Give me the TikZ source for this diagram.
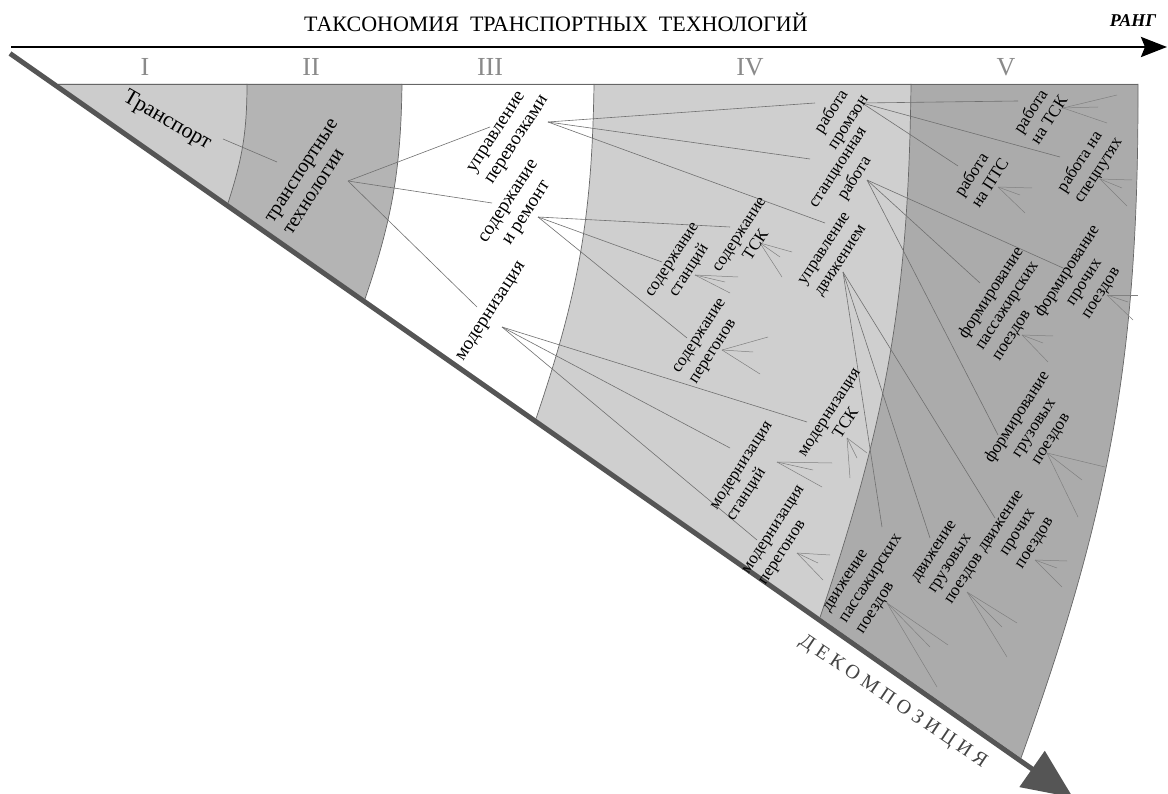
\documentclass[tikz,border=0pt]{standalone}
\usepackage{fontspec}
\setmainfont{Liberation Serif}
\usetikzlibrary{arrows.meta}

\definecolor{bandI}{HTML}{CCCCCC}
\definecolor{bandII}{HTML}{B4B4B4}
\definecolor{bandIV}{HTML}{CFCFCF}
\definecolor{bandV}{HTML}{ABABAB}
\definecolor{rimgray}{HTML}{666666}
\definecolor{bargray}{HTML}{555555}
\definecolor{linkgray}{HTML}{707070}
\definecolor{stubgray}{HTML}{808080}
\definecolor{numgray}{HTML}{8A8A8A}
\definecolor{axisgray}{HTML}{444444}

% three short strokes fanning out of a leaf label
\newcommand\stubfan[5]{%
  \coordinate (#1-o) at (#2);
  \coordinate (#1-a) at (#3);
  \coordinate (#1-b) at (#4);
  \coordinate (#1-c) at (#5);
  \draw[stub] (#1-o) -- (#1-a);
  \draw[stub] (#1-o) -- (#1-b);
  \draw[stub] (#1-o) -- (#1-c);}

\begin{document}
\begin{tikzpicture}[x=1pt,y=1pt,
  lbl/.style={inner sep=0pt, outer sep=0pt, text=black, rotate=57},
  lvlA/.style={inner sep=0pt, text=black, rotate=-30, font=\fontsize{22}{24}\selectfont},
  lvlB/.style={lbl, font=\fontsize{20}{22}\selectfont},
  lvlC/.style={lbl, font=\fontsize{19}{21.5}\selectfont},
  lvlD/.style={lbl, font=\fontsize{17}{20}\selectfont},
  link/.style={draw=linkgray, line width=0.6pt},
  stub/.style={draw=stubgray, line width=0.5pt},
  rim/.style={draw=rimgray, line width=0.7pt},
  numeral/.style={text=numgray, inner sep=0pt, font=\fontsize{26}{28}\selectfont},
]
\useasboundingbox (0,0) rectangle (1168,-794);
\fill[white] (0,0) rectangle (1168,-794);

% ---- sector geometry ----
\coordinate (apex) at (58,-84);
\coordinate (a1t) at (247,-84);   \coordinate (a1b) at (228,-203);
\coordinate (a2t) at (402,-84);   \coordinate (a2b) at (365,-299);
\coordinate (a3t) at (594,-84);   \coordinate (a3b) at (536,-418.6);
\coordinate (a4t) at (911,-84);   \coordinate (a4b) at (820,-617.4);
\coordinate (a5t) at (1138,-84);  \coordinate (a5b) at (1021,-758);

% bands, painted from the outside in
\fill[bandV]  (apex) -- (a5t) to[bend left=10] (a5b) -- cycle;
\fill[bandIV] (apex) -- (a4t) to[bend left=9] (a4b) -- cycle;
\fill[white]  (apex) -- (a3t) to[bend left=9] (a3b) -- cycle;
\fill[bandII] (apex) -- (a2t) to[bend left=9] (a2b) -- cycle;
\fill[bandI]  (apex) -- (a1t) to[bend left=9] (a1b) -- cycle;

\draw[rim] (a1t) to[bend left=9] (a1b);
\draw[rim] (a2t) to[bend left=9] (a2b);
\draw[rim] (a3t) to[bend left=9] (a3b);
\draw[rim] (a4t) to[bend left=9] (a4b);
\draw[rim] (a5t) to[bend left=10] (a5b);
\draw[rim] (apex) -- (a5t);

% ---- axes ----
\coordinate (rank-s) at (11,-47);
\coordinate (rank-e) at (1167,-47);
\draw[black, line width=2.8pt, -{Stealth[width=20pt,length=26pt,inset=4pt]}] (rank-s) -- (rank-e);
\coordinate (dec-s) at (10,-53.5);
\coordinate (dec-e) at (1073,-797.6);
\draw[bargray, line width=5pt, -{Triangle[width=43pt,length=50pt]}] (dec-s) -- (dec-e);

\node[font=\fontsize{22}{24}\selectfont, inner sep=0pt] (title) at (556,-22)
  {ТАКСОНОМИЯ\ \ ТРАНСПОРТНЫХ\ \ ТЕХНОЛОГИЙ};
\node[font=\fontsize{18}{20}\selectfont\bfseries\itshape, inner sep=0pt] (rang) at (1133,-21) {РАНГ};
\node[text=axisgray, rotate=-34, inner sep=0pt,
      font=\fontsize{20}{22}\selectfont\addfontfeatures{LetterSpace=25}] (decomp) at (893,-702)
  {ДЕКОМПОЗИЦИЯ};

\node[numeral] (n1) at (145,-67) {I};
\node[numeral] (n2) at (311,-67) {II};
\node[numeral] (n3) at (490,-67) {III};
\node[numeral] (n4) at (750,-67) {IV};
\node[numeral] (n5) at (1006,-67) {V};

% ---- connector end points ----
\coordinate (tr-out) at (223,-139);  \coordinate (tt-in) at (277,-162);
\coordinate (tt-out) at (348,-181);
\coordinate (up-in) at (490,-127);   \coordinate (sr-in) at (492,-203);   \coordinate (mod-in) at (477,-307);
\coordinate (up-out) at (548,-122);
\coordinate (rp-in) at (815,-103);   \coordinate (sw-in) at (810,-159);   \coordinate (ud-in) at (825,-223);
\coordinate (sr-out) at (538,-217);
\coordinate (stsk-in) at (730,-227); \coordinate (sst-in) at (662,-262);  \coordinate (spe-in) at (687,-338);
\coordinate (mod-out) at (502,-327);
\coordinate (mtsk-in) at (807,-422); \coordinate (mst-in) at (730,-448);  \coordinate (mpe-in) at (757,-540);
\coordinate (rp-out) at (862,-103);
\coordinate (rtsk-in) at (1018,-101); \coordinate (rsp-in) at (1060,-157); \coordinate (rpts-in) at (958,-166);
\coordinate (sw-out) at (867,-180);
\coordinate (fpr-in) at (1063,-268); \coordinate (fpa-in) at (980,-283);  \coordinate (fgr-in) at (998,-435);
\coordinate (ud-out) at (843,-272);
\coordinate (dpa-in) at (882,-527);  \coordinate (dgr-in) at (930,-538);  \coordinate (dpr-in) at (995,-518);

\draw[link] (tr-out) -- (tt-in);
\draw[link] (tt-out) -- (up-in);
\draw[link] (tt-out) -- (sr-in);
\draw[link] (tt-out) -- (mod-in);
\draw[link] (up-out) -- (rp-in);
\draw[link] (up-out) -- (sw-in);
\draw[link] (up-out) -- (ud-in);
\draw[link] (sr-out) -- (stsk-in);
\draw[link] (sr-out) -- (sst-in);
\draw[link] (sr-out) -- (spe-in);
\draw[link] (mod-out) -- (mtsk-in);
\draw[link] (mod-out) -- (mst-in);
\draw[link] (mod-out) -- (mpe-in);
\draw[link] (rp-out) -- (rtsk-in);
\draw[link] (rp-out) -- (rsp-in);
\draw[link] (rp-out) -- (rpts-in);
\draw[link] (sw-out) -- (fpr-in);
\draw[link] (sw-out) -- (fpa-in);
\draw[link] (sw-out) -- (fgr-in);
\draw[link] (ud-out) -- (dpa-in);
\draw[link] (ud-out) -- (dgr-in);
\draw[link] (ud-out) -- (dpr-in);

% ---- open fans of the leaves ----
\stubfan{stsk}{760,-243}{792,-252}{780,-257}{782,-277}
\stubfan{sst}{695,-275}{738,-277}{725,-282}{730,-293}
\stubfan{spe}{722,-350}{768,-337}{753,-352}{760,-374}
\stubfan{mtsk}{847,-438}{867,-453}{857,-458}{850,-478}
\stubfan{mst}{777,-462}{832,-463}{813,-470}{822,-487}
\stubfan{mpe}{797,-553}{830,-555}{818,-563}{823,-580}
\stubfan{rtsk}{1063,-108}{1117,-95}{1098,-107}{1107,-123}
\stubfan{rsp}{1100,-179}{1132,-180}{1122,-188}{1127,-206}
\stubfan{rpts}{998,-187}{1032,-188}{1020,-195}{1025,-213}
\stubfan{fpa}{1022,-335}{1053,-336}{1043,-343}{1048,-362}
\stubfan{fpr}{1107,-295}{1138,-295}{1128,-302}{1133,-320}
\stubfan{fgr}{1047,-453}{1105,-467}{1082,-480}{1078,-517}
\stubfan{dpa}{887,-603}{948,-645}{930,-647}{937,-687}
\stubfan{dgr}{967,-592}{1017,-623}{1002,-627}{1007,-657}
\stubfan{dpr}{1035,-560}{1067,-561}{1057,-568}{1062,-587}

% ---- labels ----
\node[lvlA] (tr) at (167,-121) {Транспорт};
\node[lvlB, align=left] (tt) at (311,-177) {транспортные\\технологии};

\node[lvlC, align=left] (up) at (509,-135) {управление\\перевозками};
\node[lvlC, align=center] (sr) at (519,-208) {содержание\\и ремонт};
\node[lvlC] (mod) at (492,-312) {модернизация};

\node[lvlD, align=center] (rp) at (840,-117) {работа\\промзон};
\node[lvlD, align=center] (sw) at (848,-174) {станционная\\работа};
\node[lvlD, align=left] (ud) at (834,-255) {управление\\движением};
\node[lvlD, align=center] (stsk) at (748,-240) {содержание\\ТСК};
\node[lvlD, align=center] (sst) at (682,-266) {содержание\\станций};
\node[lvlD, align=left] (spe) at (709,-342) {содержание\\перегонов};
\node[lvlD, align=center] (mtsk) at (838,-418) {модернизация\\ТСК};
\node[lvlD, align=left] (mst) at (751,-472) {модернизация\\станций};
\node[lvlD, align=left] (mpe) at (783,-536) {модернизация\\перегонов};

\node[lvlD, align=left] (rtsk) at (1040,-114) {работа\\на ТСК};
\node[lvlD, align=left] (rsp) at (1090,-165) {работа на\\спецпутях};
\node[lvlD, align=left] (rpts) at (981,-177) {работа\\на ПТС};
\node[lvlD, align=left] (fpa) at (1008,-304) {формирование\\пассажирских\\поездов};
\node[lvlD, align=center] (fpr) at (1084,-282) {формирование\\прочих\\поездов};
\node[lvlD, align=center] (fgr) at (1034,-428) {формирование\\грузовых\\поездов};
\node[lvlD, align=left] (dpa) at (872,-579) {движение\\пассажирских\\поездов};
\node[lvlD, align=left] (dgr) at (952,-563) {движение\\грузовых\\поездов};
\node[lvlD, align=center] (dpr) at (1019,-533) {движение\\прочих\\поездов};
\end{tikzpicture}
\end{document}
